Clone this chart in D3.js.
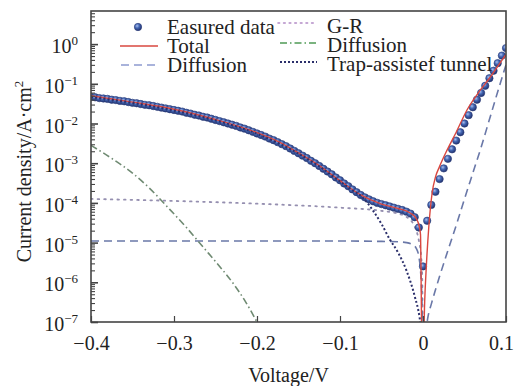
<!DOCTYPE html>
<html>
<head>
<meta charset="utf-8">
<script src="https://cdn.jsdelivr.net/npm/d3@7"></script>
<style>
  body { margin: 0; background: #fff; }
  svg text, svg tspan { font-family: "Liberation Serif", "Times New Roman", Times, "DejaVu Serif", serif !important; fill: #222; }
</style>
</head>
<body>
<div id="chart"></div>
<script>
// Measured data: voltage (V) and log10 of current density (A/cm^2)
var measuredV = [-0.400, -0.395, -0.390, -0.385, -0.380, -0.375, -0.370, -0.365, -0.360, -0.355,
  -0.350, -0.345, -0.340, -0.335, -0.330, -0.325, -0.320, -0.315, -0.310, -0.305,
  -0.300, -0.295, -0.290, -0.285, -0.280, -0.275, -0.270, -0.265, -0.260, -0.255,
  -0.250, -0.245, -0.240, -0.235, -0.230, -0.225, -0.220, -0.215, -0.210, -0.205,
  -0.200, -0.195, -0.190, -0.185, -0.180, -0.175, -0.170, -0.165, -0.160, -0.155,
  -0.150, -0.145, -0.140, -0.135, -0.130, -0.125, -0.120, -0.115, -0.110, -0.105,
  -0.100, -0.095, -0.090, -0.085, -0.080, -0.075, -0.070, -0.065, -0.060, -0.055,
  -0.050, -0.045, -0.040, -0.035, -0.030, -0.025, -0.020, -0.015, -0.010, -0.005,
  0.000, 0.005, 0.010, 0.015, 0.020, 0.025, 0.030, 0.035, 0.040, 0.045,
  0.050, 0.055, 0.060, 0.065, 0.070, 0.075, 0.080, 0.085, 0.090, 0.095, 0.100];
var measuredLogJ = [-1.33, -1.34, -1.36, -1.37, -1.38, -1.40, -1.41, -1.43, -1.44, -1.46,
  -1.48, -1.49, -1.51, -1.53, -1.54, -1.56, -1.58, -1.60, -1.62, -1.64,
  -1.66, -1.68, -1.70, -1.73, -1.75, -1.78, -1.80, -1.83, -1.85, -1.88,
  -1.91, -1.94, -1.97, -2.00, -2.03, -2.06, -2.10, -2.13, -2.17, -2.21,
  -2.25, -2.29, -2.33, -2.38, -2.42, -2.47, -2.52, -2.57, -2.63, -2.69,
  -2.75, -2.81, -2.87, -2.94, -3.00, -3.07, -3.14, -3.21, -3.28, -3.36,
  -3.43, -3.51, -3.58, -3.66, -3.73, -3.80, -3.86, -3.91, -3.96, -4.00,
  -4.03, -4.06, -4.09, -4.12, -4.15, -4.18, -4.22, -4.27, -4.36, -4.62,
  -5.60, -4.45, -4.05, -3.72, -3.40, -3.13, -2.89, -2.65, -2.43, -2.22,
  -2.00, -1.79, -1.59, -1.40, -1.23, -1.05, -0.86, -0.67, -0.48, -0.29, -0.10];

// Total fit
var totalV = [-0.4, -0.35, -0.3, -0.25, -0.2, -0.175, -0.15, -0.125, -0.1, -0.075, -0.05, -0.03, -0.015,
  -0.008, -0.005, -0.003, -0.0025, -0.002, -0.0015,
  0.001, 0.002, 0.004, 0.007, 0.011, 0.015, 0.02, 0.029, 0.04, 0.053, 0.069, 0.08, 0.09, 0.1];
var totalLogJ = [-1.30, -1.46, -1.64, -1.90, -2.23, -2.45, -2.74, -3.06, -3.44, -3.80, -4.03, -4.14, -4.26,
  -4.40, -4.55, -4.80, -5.5, -6.5, -7.5,
  -7.2, -6.5, -5.6, -4.6, -3.75, -3.35, -3.08, -2.67, -2.22, -1.66, -1.16, -0.86, -0.56, -0.26];

// G-R component
var grV = [-0.4, -0.3, -0.2, -0.1, -0.05, -0.03, -0.02, -0.01, -0.005, -0.002, -0.001, -0.0003];
var grLogJ = [-3.90, -3.95, -4.02, -4.12, -4.20, -4.27, -4.35, -4.60, -4.95, -5.40, -5.80, -7.3];

// Diffusion (dashed)
var diffV = [-0.4, -0.3, -0.2, -0.1, -0.05, -0.03, -0.02, -0.012, -0.008, -0.005, -0.003, -0.0015, -0.0005];
var diffLogJ = [-4.96, -4.96, -4.96, -4.96, -4.97, -4.98, -5.00, -5.06, -5.15, -5.35, -5.70, -6.30, -7.3];
var diffFwdV = [0.003, 0.006, 0.01, 0.02, 0.03, 0.041, 0.05, 0.06, 0.07, 0.08, 0.09, 0.1];
var diffFwdLogJ = [-7.3, -6.87, -6.55, -5.85, -5.2, -4.5, -3.9, -3.25, -2.6, -1.9, -1.2, -0.52];

// Diffusion (dash-dot)
var diff2V = [-0.4, -0.375, -0.35, -0.33, -0.308, -0.285, -0.265, -0.245, -0.229, -0.215, -0.2, -0.19];
var diff2LogJ = [-2.55, -2.88, -3.25, -3.62, -4.10, -4.62, -5.11, -5.60, -6.02, -6.45, -7.0, -7.4];

// Trap-assisted tunnel
var tatV = [-0.4, -0.35, -0.3, -0.25, -0.2, -0.15, -0.125, -0.1, -0.085, -0.072, -0.06, -0.05,
  -0.04, -0.03, -0.02, -0.01, -0.004, -0.0015];
var tatLogJ = [-1.33, -1.48, -1.67, -1.92, -2.26, -2.76, -3.08, -3.46, -3.68, -3.88, -4.20, -4.53,
  -4.92, -5.25, -5.70, -6.35, -6.90, -7.3];

var xTicks = [-0.4, -0.3, -0.2, -0.1, 0, 0.1];
var xTickLabels = ["\u22120.4", "\u22120.3", "\u22120.2", "\u22120.1", "0", "0.1"];
var yExponents = [0, -1, -2, -3, -4, -5, -6, -7];

var legendLeft = ["Easured data", "Total", "Diffusion"];
var legendRight = ["G-R", "Diffusion", "Trap-assistef tunnel"];

var serif = '"Liberation Serif", "Times New Roman", Times, serif';

var width = 517, height = 386;
var margin = { top: 11, right: 11, bottom: 64, left: 91 };
var innerW = width - margin.left - margin.right;
var innerH = height - margin.top - margin.bottom;

var x = d3.scaleLinear().domain([-0.4, 0.1]).range([0, innerW]);
var y = d3.scaleLog().domain([1e-7, Math.pow(10, 0.834)]).range([innerH, 0]);

var svg = d3.select("#chart").append("svg")
  .attr("width", width).attr("height", height)
  .attr("font-family", serif);

svg.append("rect").attr("width", width).attr("height", height).attr("fill", "#fff");

var defs = svg.append("defs");
defs.append("clipPath").attr("id", "plot-clip")
  .append("rect").attr("width", innerW).attr("height", innerH);

var grad = defs.append("radialGradient").attr("id", "ball")
  .attr("cx", "38%").attr("cy", "35%").attr("r", "65%");
grad.append("stop").attr("offset", "0%").attr("stop-color", "#a9c0ee");
grad.append("stop").attr("offset", "45%").attr("stop-color", "#4467b4");
grad.append("stop").attr("offset", "100%").attr("stop-color", "#22336f");

var g = svg.append("g").attr("transform", `translate(${margin.left},${margin.top})`);
var plot = g.append("g").attr("clip-path", "url(#plot-clip)");

function zip(vs, ls) {
  return vs.map((v, i) => ({ v: v, j: Math.pow(10, ls[i]) }));
}

var line = d3.line()
  .x(d => x(d.v))
  .y(d => y(d.j))
  .curve(d3.curveMonotoneX);

// Component curves
plot.append("path").datum(zip(grV, grLogJ))
  .attr("d", line).attr("fill", "none")
  .attr("stroke", "#958fb0").attr("stroke-width", 1.8)
  .attr("stroke-dasharray", "1.6,5").attr("stroke-linecap", "round");

plot.append("path").datum(zip(diffV, diffLogJ))
  .attr("d", line).attr("fill", "none")
  .attr("stroke", "#6a78a8").attr("stroke-width", 1.6)
  .attr("stroke-dasharray", "8,5");

plot.append("path").datum(zip(diffFwdV, diffFwdLogJ))
  .attr("d", line).attr("fill", "none")
  .attr("stroke", "#6a78a8").attr("stroke-width", 1.6)
  .attr("stroke-dasharray", "8,5");

plot.append("path").datum(zip(diff2V, diff2LogJ))
  .attr("d", line).attr("fill", "none")
  .attr("stroke", "#6f8a72").attr("stroke-width", 1.6)
  .attr("stroke-dasharray", "7,3,1.5,3");

// Measured points
plot.selectAll("circle.meas").data(zip(measuredV, measuredLogJ))
  .enter().append("circle")
  .attr("class", "meas")
  .attr("cx", d => x(d.v))
  .attr("cy", d => y(d.j))
  .attr("r", 3.7)
  .attr("fill", "url(#ball)")
  .attr("stroke", "#2a3a78").attr("stroke-width", 0.6);

// Total fit
plot.append("path").datum(zip(totalV, totalLogJ))
  .attr("d", line).attr("fill", "none")
  .attr("stroke", "#d9473f").attr("stroke-width", 1.4);

// Trap-assisted tunnel
plot.append("path").datum(zip(tatV, tatLogJ))
  .attr("d", line).attr("fill", "none")
  .attr("stroke", "#2b2f6b").attr("stroke-width", 2)
  .attr("stroke-dasharray", "2,2.2");

// Axes: ticks point inward
var xAxis = g.append("g")
  .attr("transform", `translate(0,${innerH})`)
  .call(d3.axisBottom(x).tickValues(xTicks).tickSize(-6).tickPadding(14)
    .tickFormat((d, i) => xTickLabels[i]));
xAxis.attr("font-family", serif).attr("font-size", 20);
xAxis.select(".domain").remove();
xAxis.selectAll("line").attr("stroke", "#444").attr("stroke-width", 1.2);
xAxis.selectAll("text").attr("fill", "#222");
xAxis.selectAll(".tick").filter((d, i) => i === xTicks.length - 1)
  .select("text").attr("dx", -5);

var minorVals = [];
yExponents.forEach(function (e) {
  if (e === 0) return;
  for (var k = 2; k <= 9; k++) minorVals.push(k * Math.pow(10, e));
});
minorVals.push(2, 3, 4, 5, 6);

var yMinor = g.append("g")
  .call(d3.axisLeft(y).tickValues(minorVals).tickSize(-4).tickFormat(""));
yMinor.select(".domain").remove();
yMinor.selectAll("line").attr("stroke", "#444").attr("stroke-width", 1.1);

var yMajor = g.append("g")
  .call(d3.axisLeft(y).tickValues(yExponents.map(e => Math.pow(10, e))).tickSize(-7).tickFormat(""));
yMajor.select(".domain").remove();
yMajor.selectAll("line").attr("stroke", "#444").attr("stroke-width", 1.6);

// y tick labels 10^n
yExponents.forEach(function (e) {
  var t = g.append("text")
    .attr("x", -13)
    .attr("y", y(Math.pow(10, e)) + 9)
    .attr("text-anchor", "end")
    .attr("font-size", 20);
  t.append("tspan").text("10");
  t.append("tspan").attr("font-size", 13).attr("dy", -8)
    .text(e === 0 ? "0" : "\u2212" + Math.abs(e));
});

// Frame
g.append("rect")
  .attr("width", innerW).attr("height", innerH)
  .attr("fill", "none").attr("stroke", "#444").attr("stroke-width", 1.6);

// Axis titles
svg.append("text")
  .attr("x", margin.left + innerW / 2 - 10)
  .attr("y", 382)
  .attr("text-anchor", "middle")
  .attr("font-size", 20)
  .text("Voltage/V");

var yTitle = svg.append("text")
  .attr("transform", `translate(31,${margin.top + innerH / 2 + 5}) rotate(-90)`)
  .attr("text-anchor", "middle")
  .attr("font-size", 20);
yTitle.append("tspan").text("Current density/A\u00b7cm");
yTitle.append("tspan").attr("font-size", 13).attr("dy", -8).text("2");

// Legend
var legend = svg.append("g");
var rowY = [27, 46, 65];
var textY = [34, 53, 72];

legend.append("circle").attr("cx", 138).attr("cy", rowY[0]).attr("r", 3.7)
  .attr("fill", "url(#ball)").attr("stroke", "#2a3a78").attr("stroke-width", 0.6);
legend.append("line").attr("x1", 120).attr("x2", 158).attr("y1", rowY[1]).attr("y2", rowY[1])
  .attr("stroke", "#d9473f").attr("stroke-width", 1.4);
legend.append("line").attr("x1", 121).attr("x2", 158).attr("y1", rowY[2]).attr("y2", rowY[2])
  .attr("stroke", "#8d9ad0").attr("stroke-width", 1.6).attr("stroke-dasharray", "8,5");
legendLeft.forEach(function (s, i) {
  legend.append("text").attr("x", 167).attr("y", textY[i]).attr("font-size", 21).text(s);
});

var rowY2 = [23, 43, 62];
legend.append("line").attr("x1", 278).attr("x2", 317).attr("y1", rowY2[0]).attr("y2", rowY2[0])
  .attr("stroke", "#b28bc6").attr("stroke-width", 1.6)
  .attr("stroke-dasharray", "1.6,4").attr("stroke-linecap", "round");
legend.append("line").attr("x1", 280).attr("x2", 316).attr("y1", rowY2[1]).attr("y2", rowY2[1])
  .attr("stroke", "#4f9a55").attr("stroke-width", 1.5).attr("stroke-dasharray", "7,3,1.5,3");
legend.append("line").attr("x1", 280).attr("x2", 317).attr("y1", rowY2[2]).attr("y2", rowY2[2])
  .attr("stroke", "#2b2f6b").attr("stroke-width", 2.2).attr("stroke-dasharray", "2,2");
legendRight.forEach(function (s, i) {
  legend.append("text").attr("x", 327).attr("y", [33, 52, 71][i]).attr("font-size", 21).text(s);
});
</script>
</body>
</html>
